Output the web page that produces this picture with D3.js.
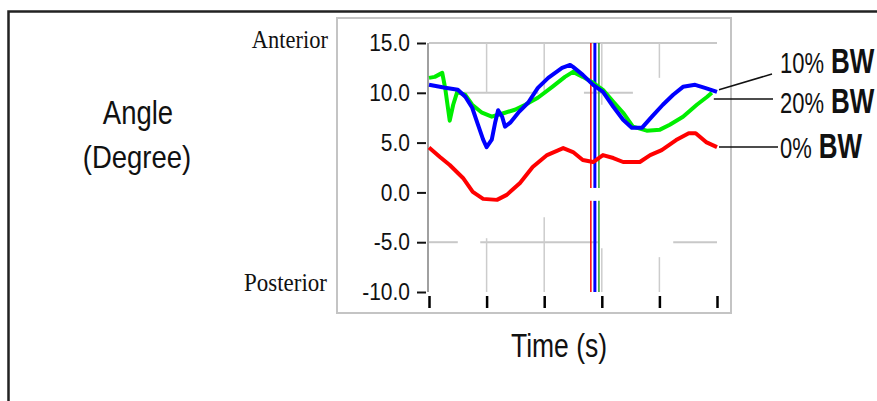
<!DOCTYPE html>
<html>
<head>
<meta charset="utf-8">
<script src="https://cdn.jsdelivr.net/npm/d3@7"></script>
<style>
	body { margin: 0; background: #fff; }
	svg { display: block; }
</style>
</head>
<body>
<svg width="877" height="401"></svg>
<script>
/* angle vs time, three body-weight conditions */

var timeTicks = [0, 1, 2, 3, 4, 5];
var angleTicks = [15, 10, 5, 0, -5, -10];

// [time (s), angle (deg)]
var bw0 = [[0, 4.5], [0.19, 3.55], [0.36, 2.75], [0.59, 1.45], [0.76, 0.05], [0.94, -0.65],
	[1.18, -0.75], [1.35, -0.25], [1.58, 0.95], [1.8, 2.55], [2.05, 3.75], [2.33, 4.45],
	[2.5, 4.05], [2.67, 3.25], [2.85, 3.05], [3.02, 3.75], [3.2, 3.45], [3.37, 3.05],
	[3.66, 3.05], [3.84, 3.75], [4.04, 4.25], [4.29, 5.25], [4.51, 5.95], [4.63, 5.95],
	[4.81, 5.05], [5, 4.55]];

var bw10 = [[0, 10.8], [0.28, 10.5], [0.5, 10.3], [0.63, 9.6], [0.75, 8.5], [0.85, 6.8],
	[0.94, 5.3], [1.0, 4.55], [1.09, 5.3], [1.15, 7.05], [1.2, 8.25], [1.27, 7.6],
	[1.32, 6.6], [1.41, 7.0], [1.55, 8.0], [1.72, 9.0], [1.89, 10.5], [2.07, 11.5],
	[2.31, 12.5], [2.45, 12.8], [2.5, 12.6], [2.67, 11.8], [2.85, 10.8], [3.02, 10.1],
	[3.2, 8.6], [3.37, 7.3], [3.52, 6.5], [3.7, 6.5], [3.87, 7.6], [4.06, 8.8],
	[4.24, 9.8], [4.41, 10.6], [4.62, 10.8], [4.79, 10.5], [5, 10.1]];

var bw20 = [[0, 11.5], [0.1, 11.6], [0.23, 12.0], [0.28, 10.5], [0.36, 7.2], [0.42, 8.8],
	[0.49, 10.1], [0.63, 9.8], [0.75, 8.8], [0.92, 8.0], [1.09, 7.6], [1.32, 8.0],
	[1.49, 8.3], [1.67, 8.8], [1.89, 9.5], [2.14, 10.6], [2.36, 11.6], [2.5, 12.1],
	[2.67, 11.6], [2.85, 11.0], [3.02, 10.3], [3.2, 9.1], [3.37, 8.0], [3.54, 6.6],
	[3.78, 6.2], [4.01, 6.3], [4.18, 6.8], [4.41, 7.6], [4.65, 8.8], [4.83, 9.6], [4.91, 10.0]];

var legendPct = ["10%", "20%", "0%"];
var legendUnit = "BW";

// cursor times (red, blue, green) and the break in them (angle)
var cursorTimes = [2.81, 2.88, 2.95];
var cursorGap = [0.45, -0.85];

// partly visible grid: [angle, t0, t1] and [time, a0, a1]
var hGrid = [[15, 0, 5], [10, 0.59, 1.9], [10, 2.69, 3.54], [-5, 0, 0.5], [-5, 0.89, 2.93], [-5, 4.24, 5]];
var vGrid = [[1, 15, 10], [2, 15, 10.2], [3, 15, 8.8], [4, 15, 11.5],
	[1, -4.6, -10], [2, -2.5, -10], [3, -5.6, -10], [4, -6.5, -10]];

var svg = d3.select("svg");
var x = d3.scaleLinear().domain([0, 5]).range([429, 717]);
var y = d3.scaleLinear().domain([-10, 15]).range([292, 43]);

function stretchText(str, tx, ty, size, anchor, sy, weight, family) {
	return svg.append("text")
		.attr("transform", "translate(" + tx + "," + ty + ") scale(1," + sy + ")")
		.attr("text-anchor", anchor)
		.style("font-family", family || "'Liberation Sans', Arial, sans-serif")
		.style("font-size", size + "px")
		.style("font-weight", weight || "normal")
		.attr("fill", "#111")
		.text(str);
}

// outer frame and inner panel
svg.append("path")
	.attr("d", "M8.5,401V11.5H877")
	.attr("fill", "none")
	.attr("stroke", "#222")
	.attr("stroke-width", 2.5);

svg.append("rect")
	.attr("x", 337).attr("y", 18)
	.attr("width", 394).attr("height", 295)
	.attr("fill", "none")
	.attr("stroke", "#c4c4c4")
	.attr("stroke-width", 2);

// grid
svg.append("g").selectAll("line")
	.data(hGrid)
	.enter().append("line")
	.attr("x1", function(d) { return x(d[1]); })
	.attr("x2", function(d) { return x(d[2]); })
	.attr("y1", function(d) { return y(d[0]); })
	.attr("y2", function(d) { return y(d[0]); })
	.attr("stroke", "#c8c8c8")
	.attr("stroke-width", 2);

svg.append("g").selectAll("line")
	.data(vGrid)
	.enter().append("line")
	.attr("x1", function(d) { return x(d[0]); })
	.attr("x2", function(d) { return x(d[0]); })
	.attr("y1", function(d) { return y(d[1]); })
	.attr("y2", function(d) { return y(d[2]); })
	.attr("stroke", "#cccccc")
	.attr("stroke-width", 1.5);

// y axis
svg.append("line")
	.attr("x1", 428).attr("x2", 428)
	.attr("y1", y(15)).attr("y2", y(-10))
	.attr("stroke", "#808080")
	.attr("stroke-width", 1.5);

var yAxis = svg.append("g")
	.attr("transform", "translate(426,0)")
	.call(d3.axisLeft(y).tickValues(angleTicks).tickSize(9).tickPadding(7)
		.tickFormat(function(d) { return d.toFixed(1); }));
yAxis.select(".domain").remove();
yAxis.selectAll(".tick line").attr("stroke", "#111").attr("stroke-width", 2);
yAxis.selectAll(".tick text")
	.attr("fill", "#111")
	.attr("transform", "scale(1,1.15)")
	.style("font-family", "'Liberation Sans', Arial, sans-serif")
	.style("font-size", "21px");

// x axis: ticks only
var xAxis = svg.append("g")
	.attr("transform", "translate(0,296)")
	.call(d3.axisBottom(x).tickValues(timeTicks).tickSize(12).tickFormat(""));
xAxis.select(".domain").remove();
xAxis.selectAll(".tick line").attr("stroke", "#000").attr("stroke-width", 2.5);

// cursors
var cursorColors = ["#ff0000", "#0000ff", "#2e9a2e"];
var cursorWidths = [1.5, 3, 1.5];
cursorTimes.forEach(function(t, i) {
	[[15, cursorGap[0]], [cursorGap[1], -10]].forEach(function(seg) {
		svg.append("line")
			.attr("x1", x(t)).attr("x2", x(t))
			.attr("y1", y(seg[0])).attr("y2", y(seg[1]))
			.attr("stroke", cursorColors[i])
			.attr("stroke-width", cursorWidths[i]);
	});
});

// curves
var line = d3.line()
	.x(function(d) { return x(d[0]); })
	.y(function(d) { return y(d[1]); });

[[bw0, "#ff0000"], [bw20, "#00ee00"], [bw10, "#0000ff"]].forEach(function(s) {
	svg.append("path")
		.datum(s[0])
		.attr("d", line)
		.attr("fill", "none")
		.attr("stroke", s[1])
		.attr("stroke-width", 4)
		.attr("stroke-linejoin", "round");
});

// leader lines to labels
var ends = [bw10[bw10.length - 1], bw20[bw20.length - 1], bw0[bw0.length - 1]];
var labelBase = [73, 113, 158];
ends.forEach(function(e, i) {
	var x1 = x(e[0]) + 2, y1 = y(e[1]), x2 = 772, y2 = y1;
	if (i == 0) { y1 = y1 - 2; y2 = 74; }
	if (i == 1) { y1 = 99; y2 = 99; x2 = 773; }
	if (i == 2) { x2 = 778; }
	svg.append("line")
		.attr("x1", x1).attr("y1", y1)
		.attr("x2", x2).attr("y2", y2)
		.attr("stroke", "#111")
		.attr("stroke-width", 1.5);

	var t = stretchText("", 780, labelBase[i], 22, "start", 1.33);
	t.append("tspan").text(legendPct[i]);
	t.append("tspan").attr("dx", 7).style("font-weight", "bold").style("font-size", "26px").text(legendUnit);
});

// titles
stretchText("Angle", 138, 124, 27.5, "middle", 1.22);
stretchText("(Degree)", 137, 168, 27.5, "middle", 1.15);
stretchText("Time (s)", 559, 357, 26.5, "middle", 1.25);
stretchText("Anterior", 328, 48, 22.5, "end", 1.12, "normal", "'Liberation Serif', 'Times New Roman', serif");
stretchText("Posterior", 327, 291, 23, "end", 1.12, "normal", "'Liberation Serif', 'Times New Roman', serif");
</script>
</body>
</html>
